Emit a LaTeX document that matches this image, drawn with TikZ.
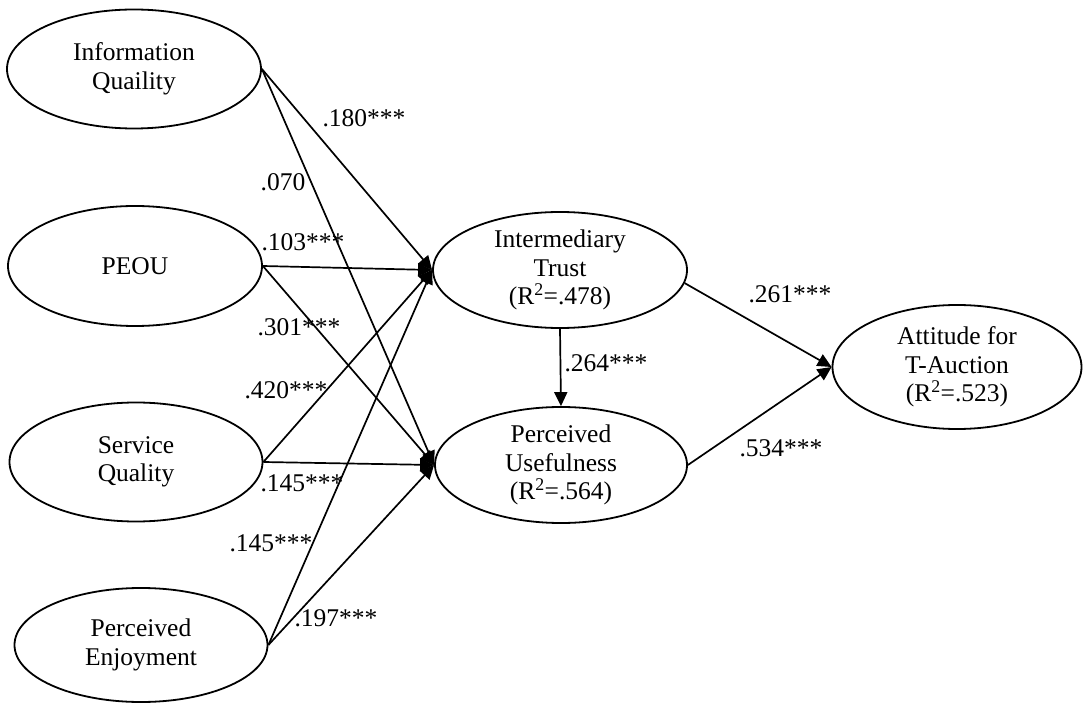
\documentclass[tikz,border=0pt]{standalone}
\usepackage{fontspec}
\setmainfont{Liberation Serif}
\usetikzlibrary{shapes.geometric,arrows.meta}
\begin{document}
\begin{tikzpicture}[x=1pt,y=-1pt,
  lv/.style={ellipse,draw,line width=1.8pt,inner sep=0pt,align=center,
    font=\fontsize{25.5}{28.5}\selectfont},
  conn/.style={line width=1.7pt,-{Triangle[length=14pt,width=13pt]}},
  lbl/.style={font=\fontsize{25.5}{28.5}\selectfont,inner sep=0pt}]
\useasboundingbox (0,0) rectangle (1085,703);
% exogenous constructs
\node[lv,minimum width=254pt,minimum height=119pt] (IQ) at (134,69) {Information\\Quaility};
\node[lv,minimum width=254pt,minimum height=120pt] (PEOU) at (135,266) {PEOU};
\node[lv,minimum width=253pt,minimum height=119pt] (SQ) at (136,462) {Service\\Quality};
\node[lv,minimum width=253pt,minimum height=114pt] (PE) at (141,645) {Perceived\\Enjoyment};
% endogenous constructs
\node[lv,minimum width=254pt,minimum height=116pt] (IT) at (560,270) {Intermediary\\Trust\\(R\textsuperscript{2}=.478)};
\node[lv,minimum width=252pt,minimum height=116pt] (PU) at (561,465) {Perceived\\Usefulness\\(R\textsuperscript{2}=.564)};
\node[lv,minimum width=249pt,minimum height=124pt] (AT) at (957,367) {Attitude for\\T-Auction\\(R\textsuperscript{2}=.523)};
% paths
\draw[conn] (IQ.east) -- (IT.west);
\draw[conn] (IQ.east) -- (PU.west);
\draw[conn] (PEOU.east) -- (IT.west);
\draw[conn] (PEOU.east) -- (PU.west);
\draw[conn] (SQ.east) -- (IT.west);
\draw[conn] (SQ.east) -- (PU.west);
\draw[conn] (PE.east) -- (IT.west);
\draw[conn] (PE.east) -- (PU.west);
\draw[conn] (IT.south) -- (PU.north);
\draw[conn] (IT.-6) -- (AT.west);
\draw[conn] (PU.east) -- (AT.west);
% coefficients
\node[lbl] (l1) at (364,118) {.180***};
\node[lbl] (l2) at (283,182) {.070};
\node[lbl] (l3) at (303,242) {.103***};
\node[lbl] (l4) at (299,327) {.301***};
\node[lbl] (l5) at (286,390) {.420***};
\node[lbl] (l6) at (302,483) {.145***};
\node[lbl] (l7) at (271,543) {.145***};
\node[lbl] (l8) at (336,618) {.197***};
\node[lbl] (l9) at (606,363) {.264***};
\node[lbl] (l10) at (790,294) {.261***};
\node[lbl] (l11) at (781,448) {.534***};
\end{tikzpicture}
\end{document}
